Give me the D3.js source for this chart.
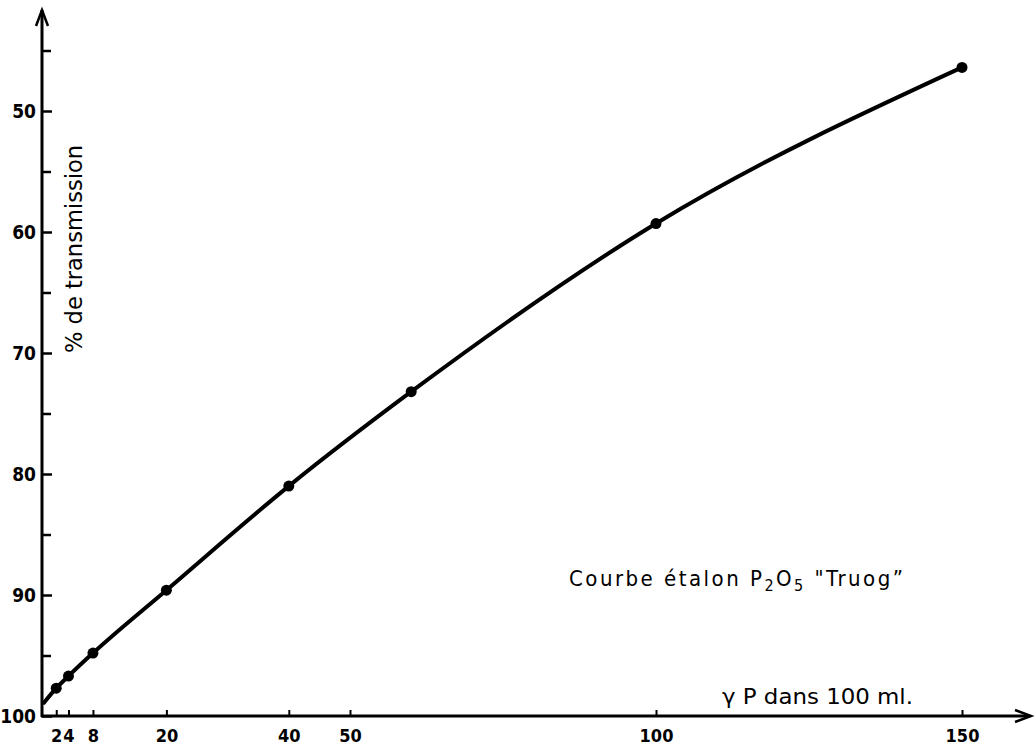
<!DOCTYPE html>
<html>
<head>
<meta charset="utf-8">
<script src="https://cdn.jsdelivr.net/npm/d3@7"></script>
<style>
  body { margin: 0; background: #fff; }
  svg { display: block; }
  text { fill: #000; }
</style>
</head>
<body>
<div id="result"></div>
<script>
// standard points: gamma P in 100 ml vs % transmission
const doses = [2, 4, 8, 20, 40, 60, 100, 150];
const transmission = [97.7, 96.7, 94.8, 89.6, 81.0, 73.2, 59.3, 46.4];
// the drawn curve starts on the y axis
const curveStart = { dose: 0, value: 98.9 };

const xTicks = [2, 4, 8, 20, 40, 50, 100, 150];
const yMajor = [50, 60, 70, 80, 90, 100];
const yMinor = [45, 55, 65, 75, 85, 95];

const width = 1035, height = 745;
const ox = 42;
const FONT = '"DejaVu Sans Condensed", "Liberation Sans Narrow", sans-serif';

const x = d3.scaleLinear().domain([0, 150]).range([44, 962]);
const y = d3.scaleLinear().domain([100, 50]).range([716, 111]);

const svg = d3.select('#result').append('svg')
  .attr('width', width)
  .attr('height', height)
  .style('font-family', FONT);

// axes lines with arrows
const axisY = y(100);
svg.append('line')
  .attr('x1', ox).attr('y1', axisY + 1)
  .attr('x2', ox).attr('y2', 10)
  .attr('stroke', '#000').attr('stroke-width', 3);
svg.append('path')
  .attr('d', `M${ox - 6},${26} L${ox},${10} L${ox + 6},${26}`)
  .attr('fill', 'none').attr('stroke', '#000').attr('stroke-width', 2.5);

svg.append('line')
  .attr('x1', ox - 1).attr('y1', axisY)
  .attr('x2', 1030).attr('y2', axisY)
  .attr('stroke', '#000').attr('stroke-width', 3);
svg.append('path')
  .attr('d', `M${1015},${axisY - 6} L${1031},${axisY} L${1015},${axisY + 6}`)
  .attr('fill', 'none').attr('stroke', '#000').attr('stroke-width', 2.5);

// y ticks, drawn inward, labels on the left
const yAxis = svg.append('g')
  .attr('transform', `translate(${ox},0)`)
  .call(d3.axisLeft(y).tickValues(yMajor).tickSizeInner(-10).tickSizeOuter(0).tickPadding(6));
yAxis.selectAll('.tick line').attr('stroke-width', 2.5);
yAxis.selectAll('.tick text')
  .style('font-family', FONT).style('font-size', '19px').style('font-weight', 'bold');
yAxis.select('.domain').remove();

const yMinorAxis = svg.append('g')
  .attr('transform', `translate(${ox},0)`)
  .call(d3.axisLeft(y).tickValues(yMinor).tickSizeInner(-9).tickSizeOuter(0).tickFormat(''));
yMinorAxis.selectAll('.tick line').attr('stroke-width', 2.5);
yMinorAxis.select('.domain').remove();

// x ticks upward, labels below
const xAxis = svg.append('g')
  .attr('transform', `translate(0,${axisY})`)
  .call(d3.axisBottom(x).tickValues(xTicks).tickSizeInner(-6).tickSizeOuter(0).tickPadding(13));
xAxis.selectAll('.tick line').attr('stroke-width', 2);
xAxis.selectAll('.tick text')
  .style('font-family', FONT).style('font-size', '18px').style('font-weight', 'bold');
xAxis.select('.domain').remove();

// curve
const linePts = [curveStart].concat(doses.map(function(d, i) {
  return { dose: d, value: transmission[i] };
}));
const line = d3.line()
  .x(function(d) { return x(d.dose); })
  .y(function(d) { return y(d.value); })
  .curve(d3.curveMonotoneX);

svg.append('path')
  .datum(linePts)
  .attr('d', line)
  .attr('fill', 'none')
  .attr('stroke', '#000')
  .attr('stroke-width', 4)
  .attr('stroke-linejoin', 'round')
  .attr('stroke-linecap', 'round');

svg.selectAll('circle.pt')
  .data(linePts.slice(1))
  .enter().append('circle')
  .attr('class', 'pt')
  .attr('cx', function(d) { return x(d.dose); })
  .attr('cy', function(d) { return y(d.value); })
  .attr('r', 5.5)
  .attr('fill', '#000');

// labels
svg.append('text')
  .attr('transform', 'translate(82,249) rotate(-90)')
  .attr('text-anchor', 'middle')
  .attr('textLength', 208)
  .attr('lengthAdjust', 'spacingAndGlyphs')
  .style('font-size', '23px')
  .text('% de transmission');

const title = svg.append('text')
  .attr('x', 569).attr('y', 586)
  .attr('textLength', 334)
  .attr('lengthAdjust', 'spacing')
  .style('font-size', '22px');
title.append('tspan').text('Courbe  étalon  P');
title.append('tspan').attr('dy', 5).style('font-size', '16px').text('2');
title.append('tspan').attr('dy', -5).text('O');
title.append('tspan').attr('dy', 5).style('font-size', '16px').text('5');
title.append('tspan').attr('dy', -5).text(' "Truog\u201D');

svg.append('text')
  .attr('x', 722).attr('y', 704)
  .attr('textLength', 191)
  .attr('lengthAdjust', 'spacingAndGlyphs')
  .style('font-size', '22px')
  .text('\u03B3 P dans 100 ml.');
</script>
</body>
</html>
